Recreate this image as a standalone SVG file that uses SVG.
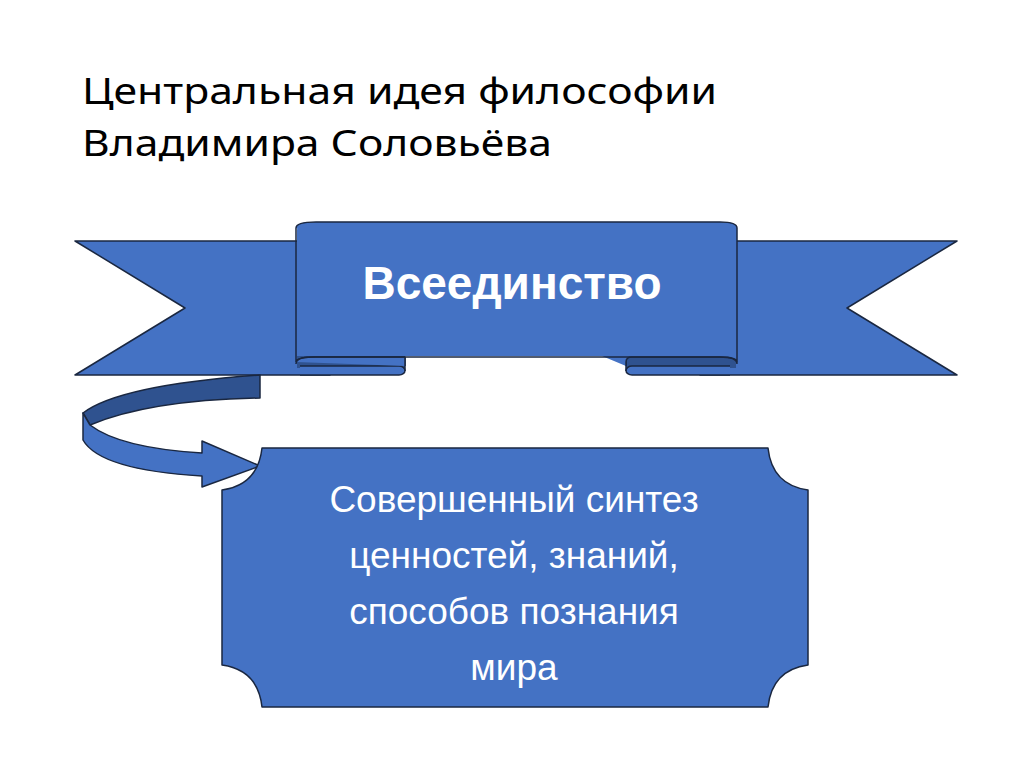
<svg xmlns="http://www.w3.org/2000/svg" width="1024" height="767" viewBox="0 0 1024 767">
<style>
.s{stroke:#1a2740;stroke-width:1.5;stroke-linejoin:round}
.f{fill:#4472c4}.d{fill:#2f528f}
.t{font-family:"Noto Sans","Liberation Sans",sans-serif;font-size:37px;fill:#000}
.w{font-family:"Liberation Sans",Arial,sans-serif;fill:#fff;text-anchor:middle}
</style>
<rect width="1024" height="767" fill="#fff"/>
<g id="title">
<text class="t" x="82" y="104" textLength="635" lengthAdjust="spacingAndGlyphs">Центральная идея философии</text>
<text class="t" x="82" y="156" textLength="470" lengthAdjust="spacingAndGlyphs">Владимира Соловьёва</text>
</g>
<g id="ribbon">
<polygon class="f s" points="75,241 330,241 330,375 75,375 185,308"/>
<polygon class="f s" points="957,241 700,241 700,375 957,375 847,308"/>
<rect class="d" x="297" y="355" width="108" height="13"/>
<path class="f s" d="M300,366 H399 A6,4.5 0 0 1 399,375 H300"/>
<path class="s" fill="none" d="M405,357 V371"/>
<rect class="d" x="626" y="355" width="110" height="13"/>
<path class="f s" d="M730,366 H632 A6,4.5 0 0 0 632,375 H730"/>
<path class="s" fill="none" d="M626,357 V371"/>
<path class="f s" d="M296,228 Q296,222 316,222 H720 Q737,222 737,228 V362 Q737,357 720,357 H632 Q626,357 626,362 V366 M296,362 Q296,357 316,357 H405 V366 M296,362 V228"/>
<path class="f" d="M297,230 Q297,223 316,223 H720 Q736,223 736,229 V356 H297 Z"/>
<path class="s" fill="none" d="M296,364 Q296,357 312,357 H720 Q737,357 737,364"/>
<text class="w" x="512" y="299" font-size="46" font-weight="bold">Всеединство</text>
</g>
<g id="connectors">
<path class="d s" d="M260,375 Q120,385 83,413 L90,425 Q150,400 260,398 Z"/>
<path class="f s" d="M83,413 L83,440 Q100,470 202,476 L202,487 L260,466 L202,441 L202,453 Q120,448 90,425 Z"/>
</g>
<g id="box">
<path class="f s" d="M262,448 H768 Q772,485 808,490 V665 Q772,670 768,707 H262 Q258,670 222,665 V490 Q258,485 262,448 Z"/>
<g class="w" font-size="37">
<text x="514" y="512">Совершенный синтез</text>
<text x="514" y="568">ценностей, знаний,</text>
<text x="514" y="624">способов познания</text>
<text x="514" y="680">мира</text>
</g>
</g>
</svg>
